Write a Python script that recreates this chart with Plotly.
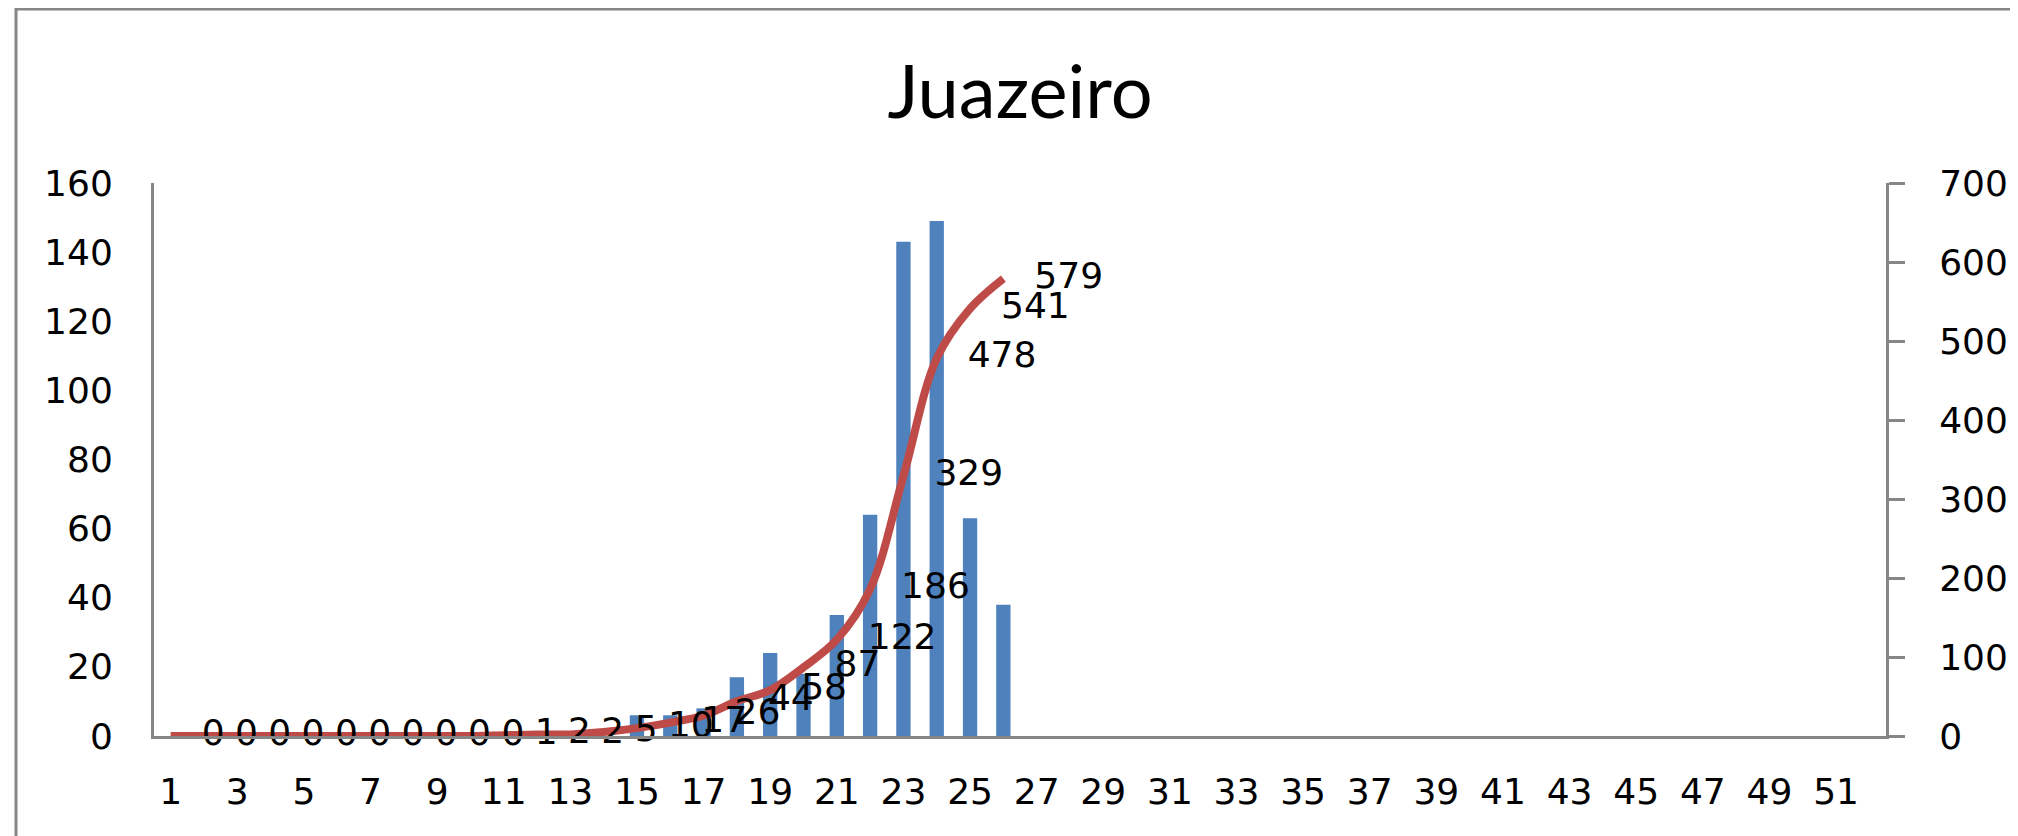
import plotly.graph_objects as go

# ---- data ----
semanas = list(range(1, 27))
casos_semana = [0] * 14 + [6, 6, 8, 17, 24, 18, 35, 64, 143, 149, 63, 38]
casos_acumulados = [0] * 10 + [1, 2, 2, 5, 10, 17, 26, 44, 58, 87, 122, 186, 329, 478, 541, 579]
x_ticks = list(range(1, 52, 2))
titulo = "Juazeiro"

# the page body adds an 8px margin, so the figure is laid out 8px up/left
W, H = 2018, 836
L, R, T, B = 146, 140, 175, 108
pw, ph = W - L - R, H - T - B

AXIS = "#868686"
TICKFONT = dict(family="DejaVu Sans", size=36, color="#000000")

fig = go.Figure()
fig.add_trace(go.Bar(
    x=semanas, y=casos_semana, marker=dict(color="#4F81BD", line=dict(width=0)),
    yaxis="y", showlegend=False, hoverinfo="skip",
))
fig.add_trace(go.Scatter(
    x=semanas, y=casos_acumulados, yaxis="y2", mode="lines+markers+text",
    line=dict(color="#BE4B48", width=8, shape="spline", smoothing=1.0),
    marker=dict(size=48, color="rgba(0,0,0,0)"),
    text=[str(v) for v in casos_acumulados], textposition="middle right",
    textfont=TICKFONT, cliponaxis=False, showlegend=False, hoverinfo="skip",
))

fig.update_layout(
    width=W, height=H, margin=dict(l=L, r=R, t=T, b=B),
    paper_bgcolor="white", plot_bgcolor="white",
    bargap=0.57,
    title=dict(text=titulo, x=1012 / W, xanchor="center", y=1 - 84 / H, yanchor="middle",
               yref="container", font=dict(family="Lato", size=74, color="#000000")),
    xaxis=dict(range=[0.5, 52.5], tickmode="array", tickvals=x_ticks,
               ticktext=[str(v) for v in x_ticks], showgrid=False, zeroline=False,
               showline=True, linecolor=AXIS, linewidth=3, ticks="", ticklabelstandoff=22,
               tickfont=TICKFONT),
    yaxis=dict(range=[0, 160], dtick=20, showgrid=False, zeroline=False,
               showline=True, linecolor=AXIS, linewidth=3, ticks="", ticklabelstandoff=31,
               tickfont=TICKFONT),
    yaxis2=dict(range=[0, 700], dtick=100, overlaying="y", side="right", showgrid=False,
                zeroline=False, showline=True, linecolor=AXIS, linewidth=3,
                ticks="outside", ticklen=16, tickwidth=3, tickcolor=AXIS,
                ticklabelstandoff=27, tickfont=TICKFONT),
    shapes=[dict(type="rect", xref="paper", yref="paper",
                 x0=(8 - L) / pw, x1=(2006 - L) / pw,
                 y0=(H - B - (H + 20)) / ph, y1=(H - B - 1) / ph,
                 line=dict(color=AXIS, width=3), fillcolor="rgba(0,0,0,0)", layer="below")],
)

fig.write_html("out.html")
